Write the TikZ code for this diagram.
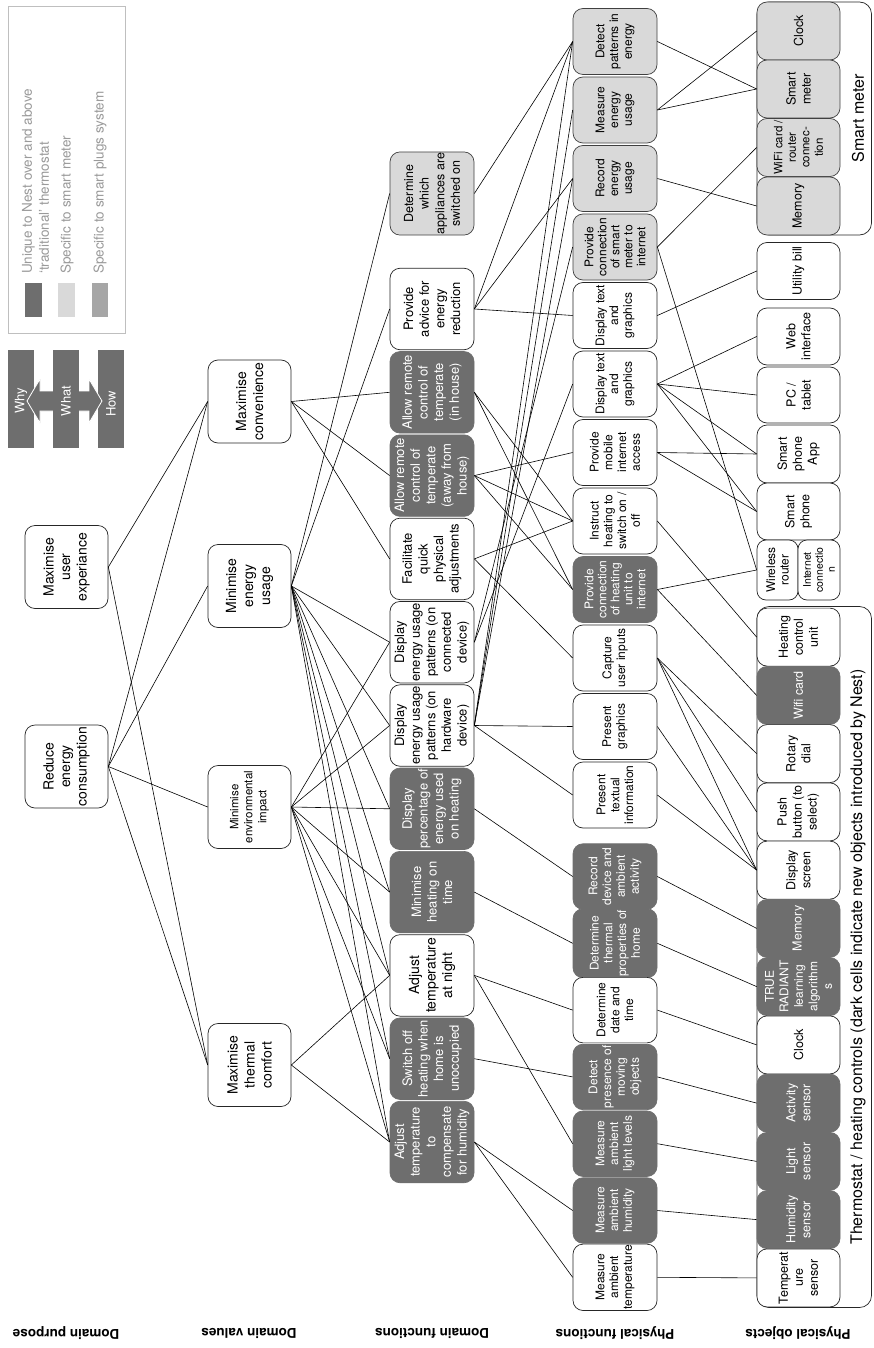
\documentclass[tikz,border=0pt]{standalone}
\usepackage{fontspec}
\setmainfont{TeX Gyre Heros}
\definecolor{dk}{HTML}{6E6E6E}
\definecolor{lt}{HTML}{D9D9D9}
\definecolor{md}{HTML}{A6A6A6}
\definecolor{lg}{HTML}{9A9A9A}
\newcommand\fz[2]{\fontsize{#1}{#2}\selectfont}
\tikzset{
 base/.style={rotate=90, rounded corners=10pt, line width=0.7pt, align=center, inner sep=1pt},
 wb/.style={base, draw=black!85, fill=white},
 db/.style={base, draw=dk, fill=dk, text=white},
 lb/.style={base, draw=black!75, fill=lt},
 dp/.style={minimum width=83pt, minimum height=83pt, font=\fz{14}{16.5}},
 dv/.style={minimum width=83pt, minimum height=83pt, font=\fz{14}{17}},
 df/.style={minimum width=81.5pt, minimum height=84pt, font=\fz{13}{15.6}},
 pf/.style={minimum width=66pt, minimum height=84pt, font=\fz{12}{13.8}},
 pfb/.style={minimum width=65.5pt, minimum height=84pt, font=\fz{12}{13.8}},
 po/.style={minimum width=58pt, minimum height=83pt, font=\fz{12.5}{15}},
 cn/.style={line width=0.6pt, black},
 lvl/.style={rotate=180, font=\bfseries\fz{13.5}{16}},
 leg/.style={rotate=90, anchor=west, align=left, text=lg, font=\fz{13.5}{17}, inner sep=0pt},
 wwh/.style={rotate=90, text=white, font=\fz{13}{15}, inner sep=0pt},
 ttl/.style={rotate=90, font=\fz{16}{18}, inner sep=0pt}
}
\begin{document}
\begin{tikzpicture}[x=1pt,y=-1pt]
\useasboundingbox (0,0) rectangle (873,1348);
\fill[white] (0,0) rectangle (873,1348);

% legend
\draw[line width=0.8pt, draw=black!25] (8,6) rectangle (125,333);
\fill[dk] (25,283) rectangle (42,317);
\fill[lt] (58,283) rectangle (75,317);
\fill[md] (92,283) rectangle (108,317);
\node[leg] (L1) at (35.5,274) {Unique to Nest over and above\\‘traditional’ thermostat};
\node[leg] (L2) at (67,274) {Specific to smart meter};
\node[leg] (L3) at (100,274) {Specific to smart plugs system};

% why what how
\fill[dk] (8,350) rectangle (34,448);
\fill[dk] (53,350) rectangle (79,448);
\fill[dk] (98,350) rectangle (124,448);
\filldraw[fill=dk, draw=white, line width=0.8pt] (27,401) -- (40,379) -- (40,391) -- (89,391) -- (89,379) -- (102,401) -- (89,423) -- (89,411) -- (40,411) -- (40,423) -- cycle;
\fill[dk] (53,350) rectangle (79,448);
\node[wwh] (Why) at (21,401) {Why};
\node[wwh] (What) at (66,401) {What};
\node[wwh] (How) at (111,404) {How};

% containers
\draw[line width=0.7pt, black!85, rounded corners=12pt] (757,2) rectangle (871.5,235);
\draw[line width=0.7pt, black!85, rounded corners=12pt] (757,606.5) rectangle (871.5,1307.5);
\node[ttl] (SMt) at (858,118.5) {Smart meter};
\node[ttl] (THt) at (858,957) {Thermostat / heating controls (dark cells indicate new objects introduced by Nest)};

% level labels
\node[lvl] (Lp) at (66,1333) {Domain purpose};
\node[lvl] (Lv) at (249,1333) {Domain values};
\node[lvl] (Ld) at (432,1333) {Domain functions};
\node[lvl] (Lf) at (615,1333) {Physical functions};
\node[lvl] (Lo) at (798,1333) {Physical objects};

% domain purpose
\node[wb,dp] (MUE) at (66.5,567) {Maximise\\user\\experiance};
\node[wb,dp] (RE) at (66.5,766.5) {Reduce\\energy\\consumption};

% domain values
\node[wb,dv] (MC) at (249.5,401.5) {Maximise\\convenience};
\node[wb,dv] (MEU) at (249.5,586) {Minimise\\energy\\usage};
\node[wb,dv,font=\fz{11.5}{14}] (MEI) at (249.5,807) {Minimise\\environmental\\impact};
\node[wb,dv] (MTC) at (249.5,1065) {Maximise\\thermal\\comfort};

% domain functions
\node[lb,df,font=\fz{12.5}{15.6}] (F1) at (432,193.5) {Determine\\which\\appliances are\\switched on};
\node[wb,df] (F2) at (432,309) {Provide\\advice for\\energy\\reduction};
\node[db,df] (F3) at (432,392.3) {Allow remote\\control of\\temperate\\(in house)};
\node[db,df] (F4) at (432,475.6) {Allow remote\\control of\\temperate\\(away from\\house)};
\node[wb,df] (F5) at (432,558.9) {Facilitate\\quick\\physical\\adjustments};
\node[wb,df] (F6) at (432,642.2) {Display\\energy usage\\patterns (on\\connected\\device)};
\node[wb,df] (F7) at (432,725.5) {Display\\energy usage\\patterns (on\\hardware\\device)};
\node[db,df] (F8) at (432,808.8) {Display\\percentage of\\energy used\\on heating};
\node[db,df] (F9) at (432,892.1) {Minimise\\heating on\\time};
\node[wb,df,font=\fz{14}{16.5}] (F10) at (432,975.4) {Adjust\\temperature\\at night};
\node[db,df] (F11) at (432,1058.7) {Switch off\\heating when\\home is\\unoccupied};
\node[db,df] (F12) at (432,1142) {Adjust\\temperature\\to\\compensate\\for humidity};

% physical functions
\node[lb,pf] (P1) at (615,41.5) {Detect\\patterns in\\energy};
\node[lb,pf] (P2) at (615,110) {Measure\\energy\\usage};
\node[lb,pf] (P3) at (615,178.5) {Record\\energy\\usage};
\node[lb,pf,font=\fz{12}{13}] (P4) at (615,247) {Provide\\connection\\of smart\\meter to\\internet};
\node[wb,pf] (P5) at (615,315.5) {Display text\\and\\graphics};
\node[wb,pf] (P6) at (615,384) {Display text\\and\\graphics};
\node[wb,pf] (P7) at (615,452.5) {Provide\\mobile\\internet\\access};
\node[wb,pf] (P8) at (615,521) {Instruct\\heating to\\switch on /\\off};
\node[db,pf,font=\fz{12}{13}] (P9) at (615,589.5) {Provide\\connection\\of heating\\unit to\\internet};
\node[wb,pf] (P10) at (615,658) {Capture\\user inputs};
\node[wb,pf] (P11) at (615,726.5) {Present\\graphics};
\node[wb,pf] (P12) at (615,795) {Present\\textual\\information};
\node[db,pfb] (P13) at (615,876.5) {Record\\device and\\ambient\\activity};
\node[db,pfb] (P14) at (615,943.3) {Determine\\thermal\\properties of\\home};
\node[wb,pfb] (P15) at (615,1010.1) {Determine\\date and\\time};
\node[db,pfb] (P16) at (615,1076.9) {Detect\\presence of\\moving\\objects};
\node[db,pfb] (P17) at (615,1143.7) {Measure\\ambient\\light levels};
\node[db,pfb] (P18) at (615,1210.5) {Measure\\ambient\\humidity};
\node[wb,pfb] (P19) at (615,1277.3) {Measure\\ambient\\temperature};

% physical objects: smart meter
\node[lb,po] (O1) at (798.5,31) {Clock};
\node[lb,po] (O2) at (798.5,89) {Smart\\meter};
\node[lb,po,font=\fz{11.5}{13.5}] (O3) at (798.5,147.5) {WiFi card /\\router\\connec-\\tion};
\node[lb,po] (O4) at (798.5,206) {Memory};
% other objects
\node[wb,po,minimum width=57pt] (O5) at (798.5,271) {Utility bill};
\node[wb,po,minimum width=57pt] (O6) at (798.5,336.5) {Web\\interface};
\node[wb,po,minimum width=56pt] (O7) at (798.5,395) {PC /\\tablet};
\node[wb,po,minimum width=58pt] (O8) at (798.5,454) {Smart\\phone\\App};
\node[wb,po,minimum width=57pt] (O9) at (798.5,511.5) {Smart\\phone};
\node[wb,rounded corners=9pt,minimum width=60pt,minimum height=41pt,font=\fz{12}{13.5}] (O10a) at (777.5,570) {Wireless\\router};
\node[wb,rounded corners=9pt,minimum width=60pt,minimum height=42pt,font=\fz{10.5}{12}] (O10b) at (819,570) {Internet\\connectio\\n};
% thermostat
\node[wb,po] (O11) at (798.5,637.1) {Heating\\control\\unit};
\node[db,po] (O12) at (798.5,695.4) {Wifi card};
\node[wb,po] (O13) at (798.5,753.6) {Rotary\\dial};
\node[wb,po] (O14) at (798.5,811.9) {Push\\button (to\\select)};
\node[wb,po] (O15) at (798.5,870.1) {Display\\screen};
\node[db,po] (O16) at (798.5,928.4) {Memory};
\node[db,po,font=\fz{12}{14.5}] (O17) at (798.5,986.6) {TRUE\\RADIANT\\learning\\algorithm\\s};
\node[wb,po] (O18) at (798.5,1044.9) {Clock};
\node[db,po] (O19) at (798.5,1103.1) {Activity\\sensor};
\node[db,po] (O20) at (798.5,1161.4) {Light\\sensor};
\node[db,po] (O21) at (798.5,1219.6) {Humidity\\sensor};
\node[wb,po] (O22) at (798.5,1277.9) {Temperat\\ure\\sensor};

% connectors
\foreach \a/\b in {RE/MC, RE/MEU, RE/MEI, RE/MTC, MUE/MC, MUE/MTC,
  MC/F3, MC/F4, MC/F5,
  MEU/F1, MEU/F2, MEU/F6, MEU/F7, MEU/F8, MEU/F9, MEU/F10, MEU/F11, MEU/F12,
  MEI/F6, MEI/F7, MEI/F8, MEI/F9, MEI/F10, MEI/F11, MEI/F12,
  MTC/F10, MTC/F12,
  F1/P1, F2/P1, F2/P3, F2/P5, F3/P8, F3/P9, F4/P7, F4/P8, F4/P9, F5/P8, F5/P10,
  F6/P4, F6/P6, F7/P1, F7/P2, F7/P3, F7/P11, F7/P12,
  F8/P13, F9/P14, F10/P15, F10/P17, F11/P16, F12/P18, F12/P19,
  P1/O2, P2/O1, P2/O2, P3/O4, P4/O3, P4/O10a, P5/O5, P6/O6, P6/O7, P6/O8, P6/O9,
  P7/O8, P7/O9, P8/O11, P9/O10a, P9/O12, P10/O13, P10/O14, P10/O15, P11/O15, P12/O15,
  P13/O16, P14/O17, P15/O18, P16/O19, P17/O20, P18/O21, P19/O22}
  \draw[cn] (\a.south) -- (\b.north);
\end{tikzpicture}
\end{document}
